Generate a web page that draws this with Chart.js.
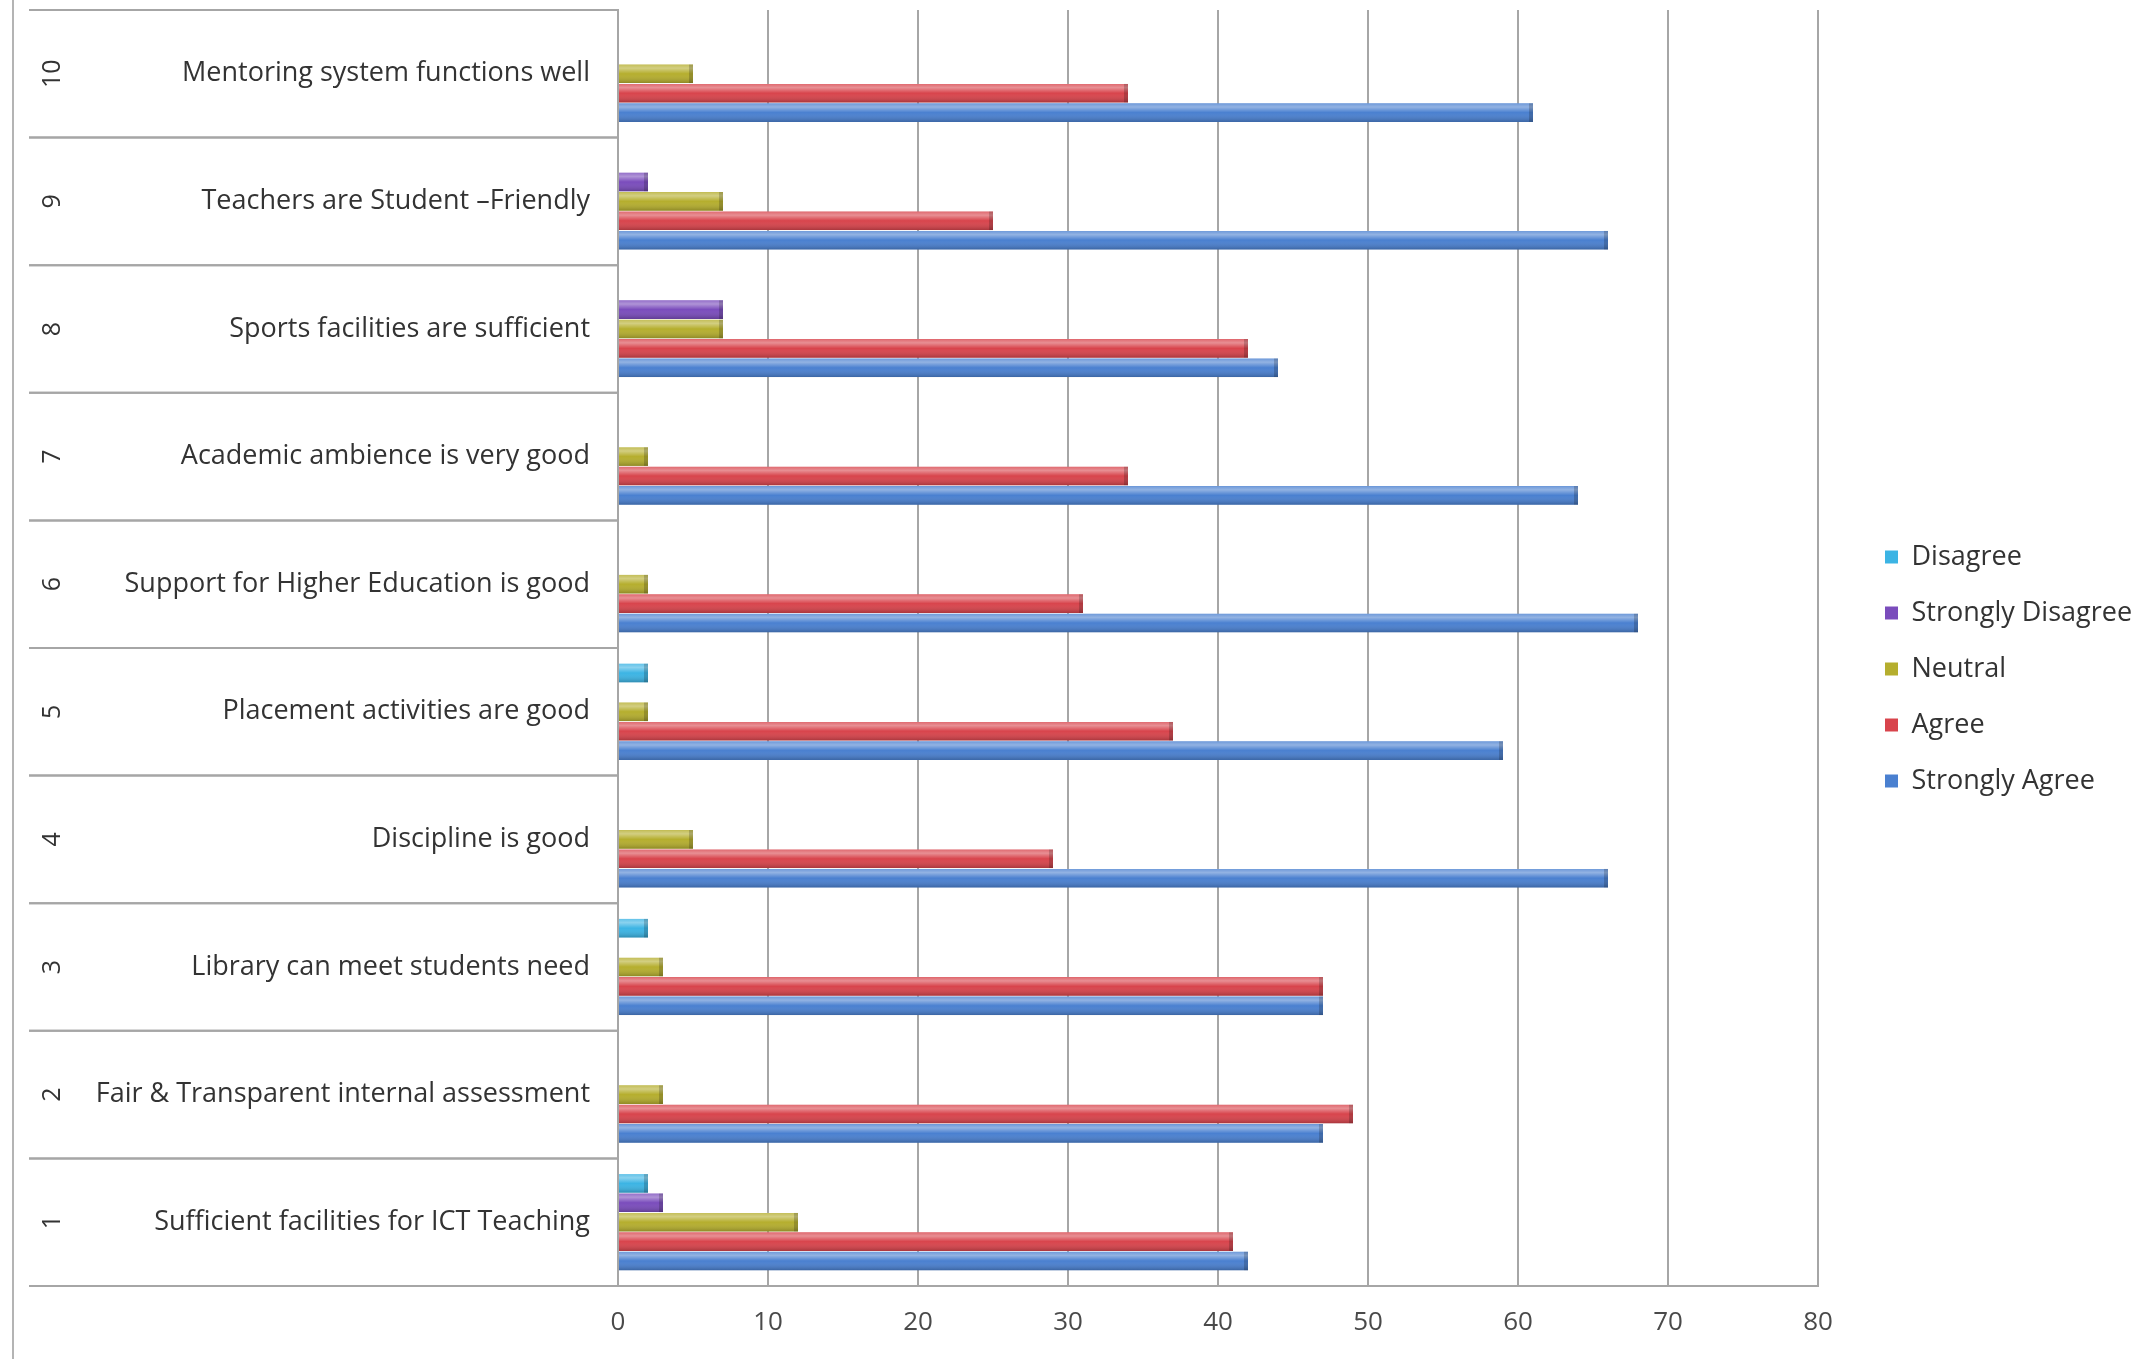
<!DOCTYPE html>
<html>
<head>
<meta charset="utf-8">
<script src="https://cdn.jsdelivr.net/npm/chart.js@4.4.0/dist/chart.umd.min.js"></script>
<style>
	html, body { margin: 0; padding: 0; background: #fff; }
	#wrap { width: 2150px; height: 1359px; position: relative; }
</style>
</head>
<body>
<div id="wrap"><canvas id="surveyChart"></canvas></div>
<script>
// survey items, numbered 1..10 (1 is drawn at the bottom)
const itemNo = ['1', '2', '3', '4', '5', '6', '7', '8', '9', '10'];
const statements = [
	'Sufficient facilities for ICT Teaching',
	'Fair & Transparent internal assessment',
	'Library can meet students need',
	'Discipline is good',
	'Placement activities are good',
	'Support for Higher Education is good',
	'Academic ambience is very good',
	'Sports facilities are sufficient',
	'Teachers are Student \u2013Friendly',
	'Mentoring system functions well'
];

// responses per item
const disagree         = [2, 0, 2, 0, 2, 0, 0, 0, 0, 0];
const stronglyDisagree = [3, 0, 0, 0, 0, 0, 0, 7, 2, 0];
const neutral          = [12, 3, 3, 5, 2, 2, 2, 7, 7, 5];
const agree            = [41, 49, 47, 29, 37, 31, 34, 42, 25, 34];
const stronglyAgree    = [42, 47, 47, 66, 59, 68, 64, 44, 66, 61];

const seriesNames = ['Disagree', 'Strongly Disagree', 'Neutral', 'Agree', 'Strongly Agree'];
const seriesValues = [disagree, stronglyDisagree, neutral, agree, stronglyAgree];
const seriesColors = ['#3cb4e4', '#7a4cbc', '#b5ae2e', '#d8444c', '#4a80d0'];

const xMin = 0, xMax = 80, xStep = 10;

const FONT = '"Open Sans", "Noto Sans", sans-serif';
const FONT_SIZE = 27;
const TEXT = '#333333';
const LINE = '#a6a6a6';

// work out right padding so the legend sits where the original one does
const meas = document.createElement('canvas').getContext('2d');
meas.font = FONT_SIZE + 'px ' + FONT;
const legendTextW = Math.max(...seriesNames.map(s => meas.measureText(s).width));
const legendPad = 29, legendBox = 13;
const legendW = legendPad + legendBox + FONT_SIZE / 2 + legendTextW + 10;
const padRight = Math.max(0, 2150 - (1885 - legendPad) - legendW);

// number column + row lines of the label table
const tablePlugin = {
	id: 'tableLines',
	afterDraw(chart) {
		const { ctx, chartArea, scales: { y } } = chart;
		const half = Math.abs(y.getPixelForValue(1) - y.getPixelForValue(0)) / 2;
		ctx.save();
		ctx.strokeStyle = '#b4b4b4';
		ctx.lineWidth = 2;
		ctx.beginPath();
		ctx.moveTo(13, 0);
		ctx.lineTo(13, chart.height);
		ctx.stroke();

		ctx.strokeStyle = LINE;
		itemNo.forEach((n, i) => {
			const yc = y.getPixelForValue(i);
			[yc - half, yc + half].forEach(yy => {
				ctx.beginPath();
				ctx.moveTo(29, yy);
				ctx.lineTo(chartArea.left, yy);
				ctx.stroke();
			});
			ctx.save();
			ctx.translate(53, yc);
			ctx.rotate(-Math.PI / 2);
			ctx.fillStyle = TEXT;
			ctx.font = '25px ' + FONT;
			ctx.textAlign = 'center';
			ctx.textBaseline = 'middle';
			ctx.fillText(n, 0, 0);
			ctx.restore();
		});
		ctx.restore();
	}
};

// cylinder-like shading on top of each bar
const shadePlugin = {
	id: 'barShade',
	afterDatasetsDraw(chart) {
		const ctx = chart.ctx;
		ctx.save();
		chart.data.datasets.forEach((ds, di) => {
			const meta = chart.getDatasetMeta(di);
			meta.data.forEach(el => {
				const p = el.getProps(['x', 'y', 'base', 'height'], true);
				const w = p.x - p.base;
				if (w < 0.5) return;
				const top = p.y - p.height / 2;
				const g = ctx.createLinearGradient(0, top, 0, top + p.height);
				g.addColorStop(0, 'rgba(255,255,255,0.2)');
				g.addColorStop(0.2, 'rgba(255,255,255,0.4)');
				g.addColorStop(0.5, 'rgba(255,255,255,0)');
				g.addColorStop(1, 'rgba(0,0,0,0.22)');
				ctx.fillStyle = g;
				ctx.fillRect(p.base, top, w, p.height);
				ctx.fillStyle = 'rgba(0,0,0,0.18)';
				ctx.fillRect(p.x - 4, top, 4, p.height);
			});
		});
		ctx.restore();
	}
};

const datasets = seriesNames.map((name, i) => ({
	label: name,
	data: seriesValues[i],
	backgroundColor: seriesColors[i],
	borderWidth: 0,
	yAxisID: 'y',
	categoryPercentage: 0.76,
	barPercentage: 0.96
}));

new Chart(document.getElementById('surveyChart'), {
	type: 'bar',
	data: { labels: statements, datasets: datasets },
	plugins: [tablePlugin, shadePlugin],
	options: {
		indexAxis: 'y',
		responsive: true,
		maintainAspectRatio: false,
		devicePixelRatio: 1,
		animation: false,
		layout: { padding: { left: 0, top: 0, bottom: 21, right: padRight } },
		plugins: {
			tooltip: { enabled: false },
			legend: {
				position: 'right',
				labels: {
					boxWidth: legendBox,
					boxHeight: legendBox,
					padding: legendPad,
					color: TEXT,
					font: { family: FONT, size: FONT_SIZE }
				}
			}
		},
		scales: {
			x: {
				min: xMin,
				max: xMax,
				afterFit(s) { s.height = 52; },
				ticks: {
					stepSize: xStep,
					padding: 21,
					color: '#4a4a4a',
					font: { family: FONT, size: FONT_SIZE - 1 }
				},
				grid: { color: LINE, lineWidth: 2, drawTicks: false },
				border: { display: true, color: LINE, width: 2 }
			},
			y: {
				reverse: true,
				afterFit(s) {
					s.width = 618;
					s.paddingTop = 10;
					s.paddingBottom = 0;
				},
				ticks: {
					padding: 28,
					color: TEXT,
					font: { family: FONT, size: FONT_SIZE }
				},
				grid: { display: false, drawTicks: false },
				border: { display: true, color: LINE, width: 2 }
			},
			y2: {
				type: 'category',
				position: 'right',
				afterFit(s) {
					s.width = 38;
					s.paddingTop = 0;
					s.paddingBottom = 0;
				},
				ticks: { display: false },
				grid: { display: false, drawTicks: false },
				border: { display: false }
			}
		}
	}
});
</script>
</body>
</html>
